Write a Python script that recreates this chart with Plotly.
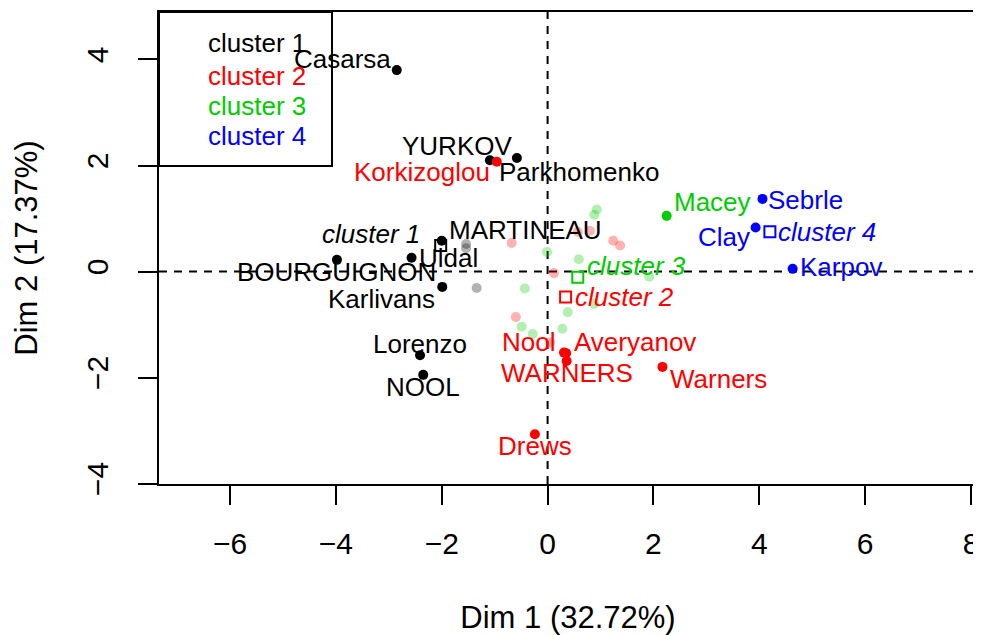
import plotly.graph_objects as go

# ---- data ----
cluster_names = ["cluster 1", "cluster 2", "cluster 3", "cluster 4"]
cluster_colors = ["#000000", "#FF0000", "#00CD00", "#0000FF"]
faded_colors = ["rgba(0,0,0,0.3)", "rgba(255,0,0,0.3)", "rgba(0,205,0,0.3)", "rgba(0,0,255,0.3)"]

# labelled individuals
lab_names = ["Casarsa", "YURKOV", "Parkhomenko", "MARTINEAU", "Uldal", "BOURGUIGNON",
             "Karlivans", "Lorenzo", "NOOL",
             "Korkizoglou", "Nool", "Averyanov", "WARNERS", "Warners", "Drews",
             "Macey",
             "Sebrle", "Clay", "Karpov"]
lab_x = [-2.85, -1.09, -0.58, -2.00, -2.57, -3.98, -1.99, -2.41, -2.35,
         -0.96, 0.31, 0.35, 0.36, 2.17, -0.24,
         2.25,
         4.06, 3.93, 4.63]
lab_y = [3.80, 2.10, 2.14, 0.58, 0.26, 0.22, -0.29, -1.58, -1.95,
         2.07, -1.53, -1.54, -1.69, -1.80, -3.07,
         1.05,
         1.37, 0.83, 0.05]
lab_cluster = [1, 1, 1, 1, 1, 1, 1, 1, 1,
               2, 2, 2, 2, 2, 2,
               3,
               4, 4, 4]

# unlabelled (faded) individuals
bg_x = [-1.54, -1.54, -1.34,
        -0.68, 0.12, 0.80, 0.57, 1.24, 1.37, -0.60, 0.05,
        0.93, 0.88, -0.01, 0.59, 1.92, -0.43, 0.88, 0.38, -0.49, -0.28, 0.28]
bg_y = [0.52, 0.44, -0.31,
        0.54, -0.03, 0.77, 0.75, 0.58, 0.49, -0.86, -1.34,
        1.17, 1.07, 0.37, 0.23, -0.10, -0.32, -0.61, -0.77, -1.04, -1.18, -1.08]
bg_cluster = [1, 1, 1,
              2, 2, 2, 2, 2, 2, 2, 2,
              3, 3, 3, 3, 3, 3, 3, 3, 3, 3, 3]

# cluster centres
ctr_x = [-2.02, 0.34, 0.57, 4.20]
ctr_y = [0.49, -0.48, -0.11, 0.75]

x_ticks = [-6, -4, -2, 0, 2, 4, 6, 8]
y_ticks = [-4, -2, 0, 2, 4]
x_title = "Dim 1 (32.72%)"
y_title = "Dim 2 (17.37%)"

# ---- label placement (style: anchor, pixel shifts) ----
lab_place = {
    "Casarsa": ("right", -4, 11), "YURKOV": ("center", -33, 14),
    "Parkhomenko": ("left", -20, -14), "MARTINEAU": ("left", 5, 11),
    "Uldal": ("left", 5, 0), "BOURGUIGNON": ("center", 0, -12),
    "Karlivans": ("right", -5, -12), "Lorenzo": ("center", 0, 11),
    "NOOL": ("center", 0, -12), "Korkizoglou": ("right", -5, -10),
    "Nool": ("right", -7, 11), "Averyanov": ("left", 6, 11),
    "WARNERS": ("center", 0, -12), "Warners": ("left", 6, -12),
    "Drews": ("center", 0, -12), "Macey": ("left", 5, 14),
    "Sebrle": ("left", 4, -1), "Clay": ("right", -4, -9),
    "Karpov": ("left", 5, 2),
}
ctr_place = [("right", -19, 12), ("left", 7, 0), ("left", 7, 11), ("left", 6, 0)]

FONT = "Liberation Sans, Arial, sans-serif"
LAB_SIZE = 26
AX_SIZE = 30

fig = go.Figure()

# faded individuals
for k in range(4):
    xs = [x for x, c in zip(bg_x, bg_cluster) if c == k + 1]
    ys = [y for y, c in zip(bg_y, bg_cluster) if c == k + 1]
    if xs:
        fig.add_trace(go.Scatter(x=xs, y=ys, mode="markers",
                                 marker=dict(size=10, color=faded_colors[k], line=dict(width=0)),
                                 showlegend=False, hoverinfo="skip"))

# labelled individuals
for k in range(4):
    xs = [x for x, c in zip(lab_x, lab_cluster) if c == k + 1]
    ys = [y for y, c in zip(lab_y, lab_cluster) if c == k + 1]
    fig.add_trace(go.Scatter(x=xs, y=ys, mode="markers",
                             marker=dict(size=10, color=cluster_colors[k], line=dict(width=0)),
                             showlegend=False))

# cluster centres
fig.add_trace(go.Scatter(x=ctr_x, y=ctr_y, mode="markers",
                         marker=dict(symbol="square-open", size=11, color=cluster_colors,
                                     line=dict(width=2)),
                         showlegend=False))

annotations = []
for n, x, y, c in zip(lab_names, lab_x, lab_y, lab_cluster):
    anc, dx, dy = lab_place[n]
    annotations.append(dict(x=x, y=y, xref="x", yref="y", text=n, showarrow=False,
                            xanchor=anc, yanchor="middle", xshift=dx, yshift=dy,
                            font=dict(family=FONT, size=LAB_SIZE, color=cluster_colors[c - 1])))
for i, (x, y) in enumerate(zip(ctr_x, ctr_y)):
    anc, dx, dy = ctr_place[i]
    annotations.append(dict(x=x, y=y, xref="x", yref="y", text="<i>" + cluster_names[i] + "</i>",
                            showarrow=False, xanchor=anc, yanchor="middle", xshift=dx, yshift=dy,
                            font=dict(family=FONT, size=LAB_SIZE, color=cluster_colors[i])))

# legend box (top-left)
leg_y = [0.9337, 0.8644, 0.8008, 0.7373]
for i in range(4):
    annotations.append(dict(x=0.0575, y=leg_y[i], xref="paper", yref="paper", text=cluster_names[i],
                            showarrow=False, xanchor="left", yanchor="middle",
                            font=dict(family=FONT, size=LAB_SIZE, color=cluster_colors[i])))

shapes = [
    dict(type="line", xref="x", yref="paper", x0=0, x1=0, y0=0, y1=1,
         line=dict(color="black", width=2, dash="8px,7px"), layer="below"),
    dict(type="line", xref="paper", yref="y", x0=0, x1=1, y0=0, y1=0,
         line=dict(color="black", width=2, dash="8px,7px"), layer="below"),
    dict(type="rect", xref="paper", yref="paper", x0=0, x1=0.2115, y0=0.6737, y1=1,
         line=dict(color="black", width=2), fillcolor="rgba(0,0,0,0)"),
]

fig.update_layout(
    width=973, height=627,
    margin=dict(l=151, r=4, t=4, b=151, autoexpand=False),
    paper_bgcolor="white", plot_bgcolor="white",
    font=dict(family=FONT, size=AX_SIZE, color="black"),
    annotations=annotations, shapes=shapes,
    xaxis=dict(range=[-7.342, 8.113], tickvals=x_ticks, ticks="outside", ticklen=19,
               tickwidth=2, tickcolor="black", showgrid=False, zeroline=False,
               showline=True, mirror=True, linecolor="black", linewidth=2,
               ticklabelstandoff=13, automargin=False,
               title=dict(text=x_title, standoff=48, font=dict(size=31))),
    yaxis=dict(range=[-4.009, 4.896], tickvals=y_ticks, ticks="outside", ticklen=19,
               tickwidth=2, tickcolor="black", showgrid=False, zeroline=False,
               showline=True, mirror=True, linecolor="black", linewidth=2,
               tickangle=-90, ticklabelstandoff=18, automargin=False,
               title=dict(text=y_title, standoff=34, font=dict(size=31))),
)

fig.write_html("out.html")
